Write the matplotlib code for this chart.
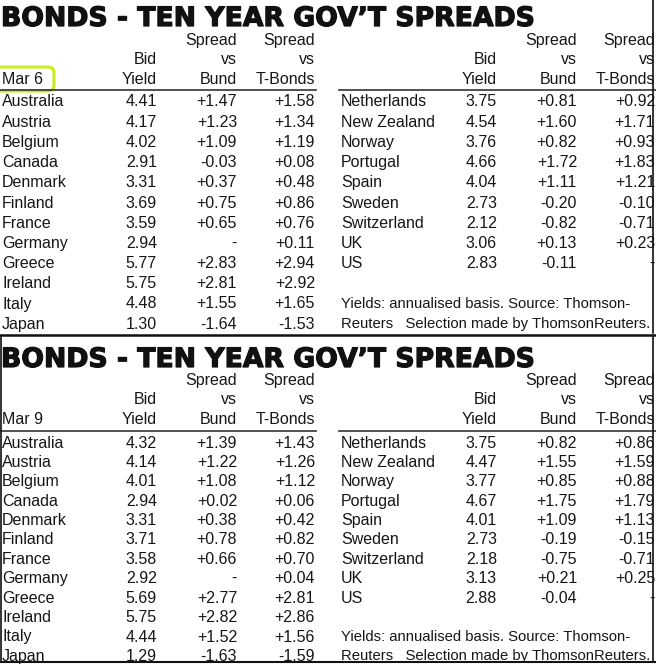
import matplotlib.pyplot as plt
import matplotlib.patheffects as pe
from matplotlib.patches import FancyBboxPatch
from matplotlib import font_manager

left_countries = ['Australia', 'Austria', 'Belgium', 'Canada', 'Denmark', 'Finland',
                  'France', 'Germany', 'Greece', 'Ireland', 'Italy', 'Japan']
right_countries = ['Netherlands', 'New Zealand', 'Norway', 'Portugal', 'Spain',
                   'Sweden', 'Switzerland', 'UK', 'US']

mar6_yield_left = [4.41, 4.17, 4.02, 2.91, 3.31, 3.69, 3.59, 2.94, 5.77, 5.75, 4.48, 1.30]
mar6_bund_left = [1.47, 1.23, 1.09, -0.03, 0.37, 0.75, 0.65, None, 2.83, 2.81, 1.55, -1.64]
mar6_tb_left = [1.58, 1.34, 1.19, 0.08, 0.48, 0.86, 0.76, 0.11, 2.94, 2.92, 1.65, -1.53]
mar6_yield_right = [3.75, 4.54, 3.76, 4.66, 4.04, 2.73, 2.12, 3.06, 2.83]
mar6_bund_right = [0.81, 1.60, 0.82, 1.72, 1.11, -0.20, -0.82, 0.13, -0.11]
mar6_tb_right = [0.92, 1.71, 0.93, 1.83, 1.21, -0.10, -0.71, 0.23, None]

mar9_yield_left = [4.32, 4.14, 4.01, 2.94, 3.31, 3.71, 3.58, 2.92, 5.69, 5.75, 4.44, 1.29]
mar9_bund_left = [1.39, 1.22, 1.08, 0.02, 0.38, 0.78, 0.66, None, 2.77, 2.82, 1.52, -1.63]
mar9_tb_left = [1.43, 1.26, 1.12, 0.06, 0.42, 0.82, 0.70, 0.04, 2.81, 2.86, 1.56, -1.59]
mar9_yield_right = [3.75, 4.47, 3.77, 4.67, 4.01, 2.73, 2.18, 3.13, 2.88]
mar9_bund_right = [0.82, 1.55, 0.85, 1.75, 1.09, -0.19, -0.75, 0.21, -0.04]
mar9_tb_right = [0.86, 1.59, 0.88, 1.79, 1.13, -0.15, -0.71, 0.25, None]

title = "BONDS - TEN YEAR GOV\u2019T SPREADS"
footnote = ["Yields: annualised basis. Source: Thomson-",
            "Reuters   Selection made by ThomsonReuters."]

# prefer a narrow face if one happens to be installed
installed = {f.name for f in font_manager.fontManager.ttflist}
body_font = 'Liberation Sans Narrow' if 'Liberation Sans Narrow' in installed else 'Liberation Sans'


def fmt_spread(v):
    return '-' if v is None else f'{v:+.2f}'


fig = plt.figure(figsize=(6.56, 6.64), dpi=100)
ax = fig.add_axes([0, 0, 1, 1])
ax.set_xlim(0, 656)
ax.set_ylim(664, 0)
ax.axis('off')

body = dict(fontsize=11.5, family=body_font, color='#161616', va='center')
heavy = [pe.withStroke(linewidth=0.9, foreground='#111111')]


def draw_panel(top, date, step, yl, bl, tl, yr, br, tr, box=False):
    ax.text(1, top + 26, title, fontsize=19.2, fontweight='bold', family='DejaVu Sans',
            va='baseline', ha='left', color='#111111', path_effects=heavy)
    # column headers
    for x0 in (0, 340):
        xs = [x0 + 157, x0 + 237, x0 + 315]
        ax.text(xs[1], top + 40, 'Spread', ha='right', **body)
        ax.text(xs[2], top + 40, 'Spread', ha='right', **body)
        ax.text(xs[0], top + 59, 'Bid', ha='right', **body)
        ax.text(xs[1], top + 59, 'vs', ha='right', **body)
        ax.text(xs[2], top + 59, 'vs', ha='right', **body)
        ax.text(xs[0], top + 79, 'Yield', ha='right', **body)
        ax.text(xs[1], top + 79, 'Bund', ha='right', **body)
        ax.text(xs[2], top + 79, 'T-Bonds', ha='right', **body)
    ax.text(2, top + 79, date, ha='left', **body)
    ax.plot([0, 316], [top + 90, top + 90], color='#333333', lw=1.2)
    ax.plot([339, 656], [top + 90, top + 90], color='#333333', lw=1.2)
    if box:
        ax.add_patch(FancyBboxPatch((-8, top + 67), 62, 24,
                                    boxstyle='round,pad=0,rounding_size=6',
                                    fill=False, ec='#c8ec1e', lw=2.2))
    y0 = top + 102
    for i, name in enumerate(left_countries):
        y = y0 + i * step
        ax.text(2, y, name, ha='left', **body)
        ax.text(157, y, f'{yl[i]:.2f}', ha='right', **body)
        ax.text(237, y, fmt_spread(bl[i]), ha='right', **body)
        ax.text(315, y, fmt_spread(tl[i]), ha='right', **body)
    for i, name in enumerate(right_countries):
        y = y0 + i * step
        ax.text(341, y, name, ha='left', **body)
        ax.text(497, y, f'{yr[i]:.2f}', ha='right', **body)
        ax.text(577, y, fmt_spread(br[i]), ha='right', **body)
        ax.text(655, y, fmt_spread(tr[i]), ha='right', **body)
    foot = dict(body, fontsize=10.7)
    ax.text(341, y0 + 10 * step, footnote[0], ha='left', **foot)
    ax.text(341, y0 + 11 * step, footnote[1], ha='left', **foot)


draw_panel(0, 'Mar 6', 20.2, mar6_yield_left, mar6_bund_left, mar6_tb_left,
           mar6_yield_right, mar6_bund_right, mar6_tb_right, box=True)
draw_panel(341, 'Mar 9', 19.4, mar9_yield_left, mar9_bund_left, mar9_tb_left,
           mar9_yield_right, mar9_bund_right, mar9_tb_right)

# frame lines
ax.plot([0, 656], [335, 335], color='#111111', lw=1.8)
ax.plot([653, 653], [0, 333], color='#111111', lw=1.2)
ax.plot([653, 653], [337, 662], color='#111111', lw=1.2)
ax.plot([1, 1], [337, 662], color='#111111', lw=1.2)
ax.plot([0, 656], [662, 662], color='#111111', lw=1.5)

fig.savefig('out.png', dpi=100)
